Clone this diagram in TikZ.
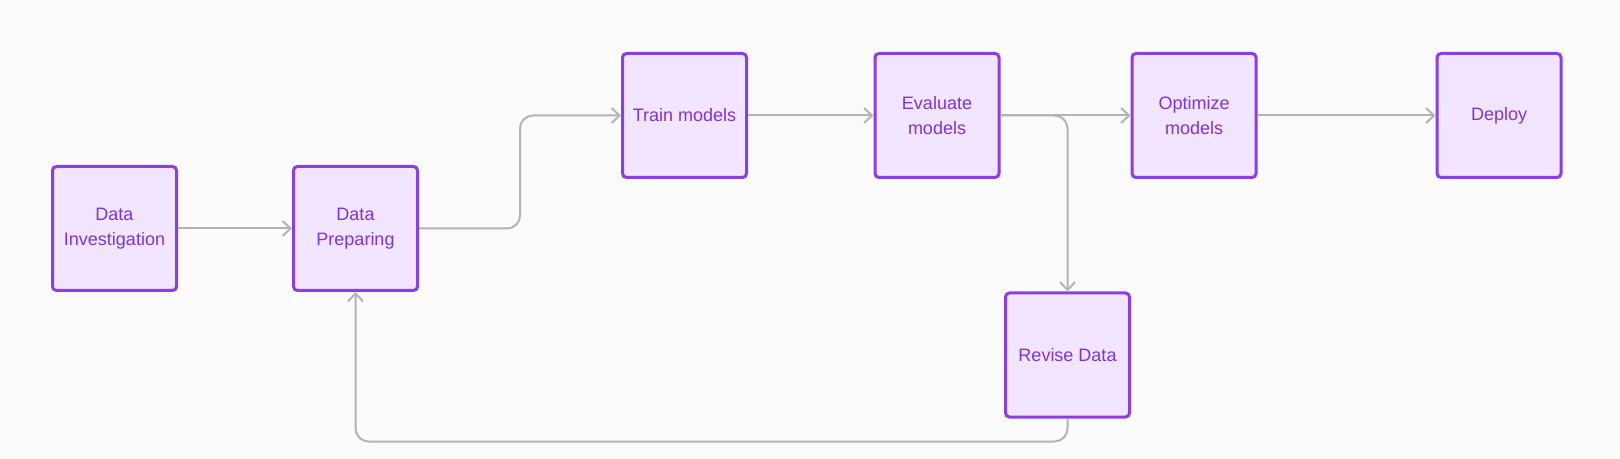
\documentclass[tikz,border=0pt]{standalone}
\usepackage{fontspec}
\setmainfont{Liberation Sans}
\usepackage{xcolor}
\usepackage{tikz}
\usetikzlibrary{arrows.meta}
\usetikzlibrary{calc}
\definecolor{stepFill}{HTML}{F2E5FF}
\definecolor{stepLine}{HTML}{8B3CEB}
\definecolor{stepText}{HTML}{7D33DE}
\definecolor{linkGray}{HTML}{B4B4B4}
\definecolor{pageBg}{HTML}{FBFBFB}
\tikzset{
  stage/.style={rectangle, rounded corners=2pt, draw=stepLine, fill=stepFill,
                line width=1.5pt, minimum size=62pt, inner sep=2pt,
                text=stepText, align=center,
                font=\fontsize{9}{12.8}\selectfont},
  link/.style={draw=linkGray, line width=1pt, rounded corners=6.5pt,
               -{Straight Barb[length=4pt, width=7.5pt, line width=1pt]}}}

\begin{document}
\begin{tikzpicture}[x=0.5pt, y=-0.5pt]
  \fill[pageBg] (0,0) rectangle (1620,459);
  \useasboundingbox (0,0) rectangle (1620,459);
  % the stages
  \node[stage] (inv)   at (114.5,228.5) {Data\\Investigation};
  \node[stage] (prep)  at (355.5,228.5) {Data\\Preparing};
  \node[stage] (train) at (684.5,115.5) {Train models};
  \node[stage] (eval)  at (937,115.5)   {Evaluate\\models};
  \node[stage] (opt)   at (1194,115.5)  {Optimize\\models};
  \node[stage] (dep)   at (1499,115.5)  {Deploy};
  \node[stage] (rev)   at (1067.5,355)  {Revise Data};
  % main flow
  \draw[link] (inv) -- (prep);
  \draw[link] (prep.east) -| ($(prep.east)!.5!(train.west)$) |- (train.west);
  \draw[link] (train) -- (eval);
  \draw[link] (eval) -- (opt);
  \draw[link] (opt) -- (dep);
  % loop back through revise
  \draw[link] (eval.east) -| (rev.north);
  \draw[link] (rev.south) -- ++(0,23) -| (prep.south);
\end{tikzpicture}
\end{document}
